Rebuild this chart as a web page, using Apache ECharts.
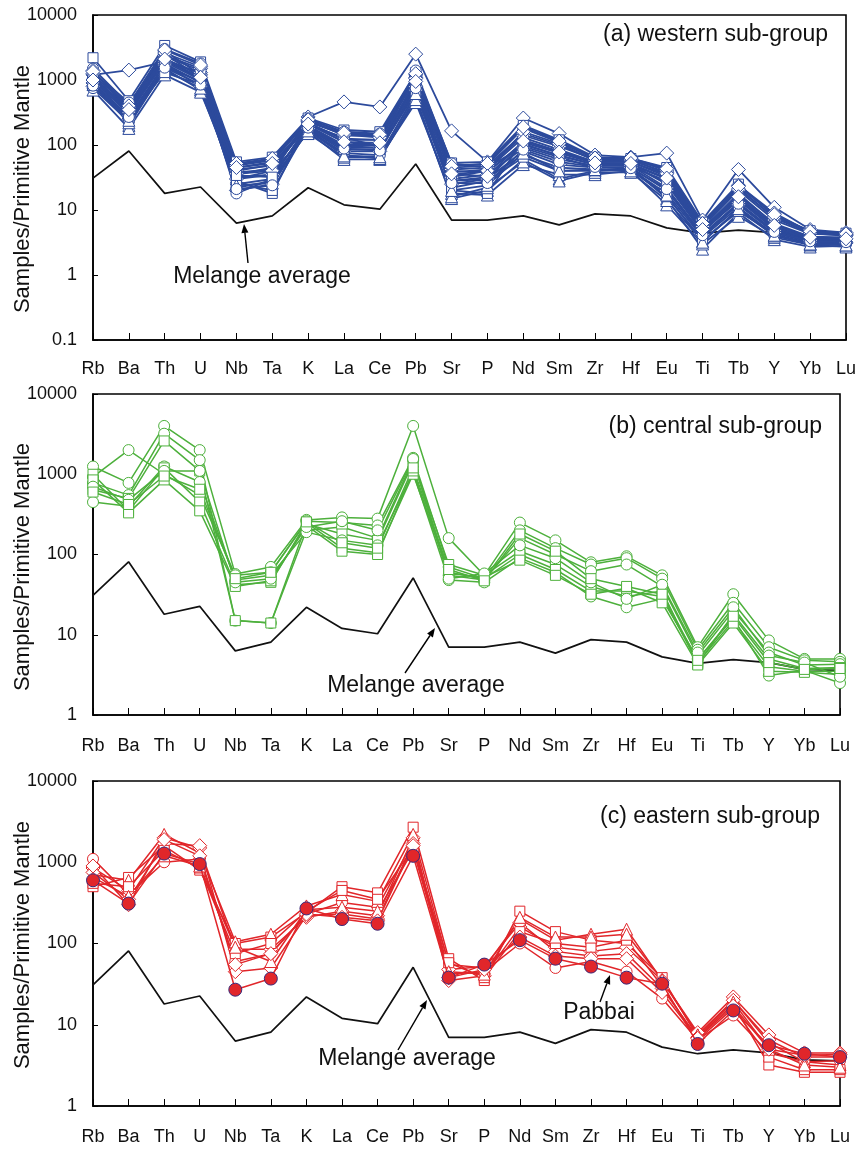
<!DOCTYPE html>
<html><head><meta charset="utf-8">
<script src="https://cdn.jsdelivr.net/npm/echarts@6.0.0/dist/echarts.min.js"></script>
<style>html,body{margin:0;padding:0;background:#fff}#c{width:861px;height:1150px}</style>
</head><body><div id="c"></div>
<script>
// ---------------- DATA ----------------
const elements = ['Rb','Ba','Th','U','Nb','Ta','K','La','Ce','Pb','Sr','P','Nd','Sm','Zr','Hf','Eu','Ti','Tb','Y','Yb','Lu'];
const melangeAverage = [31,81,18,22.6,6.3,8.1,22,12,10.3,51,7.0,7.0,8.1,5.9,8.7,8.1,5.3,4.4,4.9,4.5,3.7,3.6];
const ticksA = [0.1,1,10,100,1000,10000];
const ticksBC = [1,10,100,1000,10000];

// (a) western sub-group
const west1  = [1200,1420,1900,1300,30,35,270,460,385,2500,165,55,260,150,70,65,75,7,42,11,5,4.5];
const west2  = [2200,480,3400,1900,55,65,260,170,160,1300,53,55,200,120,65,62,45,6.5,25,8,4.8,4.4];
const west3  = [1500,420,3000,1800,50,60,250,160,150,1250,50,50,180,110,62,60,42,6,22,7.5,4.5,4.3];
const west4  = [1400,350,2800,1200,45,55,240,140,140,1100,45,48,150,100,58,58,38,5.5,20,7,4.3,4.1];
const west5  = [1300,200,1500,700,25,30,160,60,60,550,15,20,60,30,40,45,15,2.5,9,3.5,2.7,2.8];
const west6  = [1000,300,2200,1000,35,45,200,100,100,900,35,40,100,70,50,50,25,4.5,15,5,3.5,3.3];
const west7  = [800,250,1800,900,20,25,180,80,80,800,25,30,80,50,45,45,20,4,12,4.5,3.2,3.1];
const west8  = [1100,330,2000,1050,18,30,210,110,100,1000,40,38,110,75,52,50,30,5,16,5.5,3.7,3.6];
const west9  = [700,180,1200,650,30,40,150,65,65,450,18,17,50,35,35,40,12,3,8,3.8,2.9,2.7];
const west10 = [900,280,1700,800,40,50,190,90,90,700,30,35,90,60,48,48,22,4.2,13,4.8,3.4,3.2];
const west11 = [1200,400,2500,1100,28,18,220,120,120,1100,20,18,120,80,55,55,35,5,18,6,3.8,3.7];
const west12 = [750,230,1600,950,22,28,170,75,70,600,28,32,70,45,42,42,18,3.8,11,4.2,3.1,3.0];
const west13 = [1000,380,2400,1500,48,58,230,150,140,1200,42,45,140,95,60,62,40,6,24,9,4.6,4.2];
const west14 = [850,220,1400,750,32,35,175,70,62,500,16,22,55,28,38,38,14,3.3,10,4,3,2.9];
const west15 = [1300,450,2100,1250,38,42,205,130,95,1400,52,45,95,65,45,46,28,4.8,14,5.2,3.6,3.8];
const west16 = [950,260,1300,850,26,20,185,85,85,650,22,28,65,40,40,42,16,3.5,9.5,4.4,3.3,3.4];
const west17 = [1050,380,2300,1400,42,48,215,125,120,1150,38,42,130,85,55,55,33,5.2,17,6.2,3.9,3.8];
const west18 = [1250,320,2600,1600,36,40,225,145,130,1050,32,40,160,105,58,60,36,5.6,21,7.8,4.4,4.0];
const west19 = [900,240,1700,950,24,26,165,68,66,620,20,24,75,40,42,40,17,3.2,10.5,4.1,3.0,2.9];
const west20 = [1150,300,1900,1000,34,32,195,95,92,850,28,30,105,68,50,50,26,4.6,15,5.4,3.6,3.5];
const west21 = [1350,400,2900,1700,52,62,245,155,145,1250,47,52,190,115,63,63,43,6.2,23,8.5,4.7,4.3];
const west22 = [820,270,1550,850,21,24,185,88,82,750,26,26,85,55,46,44,21,4.1,12.5,4.6,3.3,3.2];
const west23 = [1000,350,2100,1100,45,52,210,112,108,950,36,33,115,78,53,52,31,5.0,16,5.8,3.8,3.6];

// (b) central sub-group
const cent1 = [1250,780,4000,2000,57,70,270,290,280,4000,160,55,250,150,80,95,55,7,32,8.5,5,5];
const cent2 = [930,2000,1000,550,55,60,260,250,230,1600,70,50,200,120,75,90,50,6.5,25,7,4.8,4.6];
const cent3 = [780,550,3200,1500,15,14,200,220,160,1500,55,48,160,100,62,75,40,5.5,20,6,4.2,4.3];
const cent4 = [640,500,2600,1100,15,14,240,180,150,1400,75,55,110,75,40,30,35,4.3,18,5,3.8,3.9];
const cent5 = [450,400,1250,800,48,55,190,150,130,1050,48,45,90,60,30,22,28,5,16,3.1,3.6,2.5];
const cent6 = [1000,350,1200,450,42,45,250,120,105,1000,60,50,100,65,35,35,30,4.5,15,4,3.5,3.5];
const cent7 = [850,330,850,350,40,47,230,110,100,1100,58,52,85,55,32,38,25,4.2,14,3.5,3.4,3.2];
const cent8 = [700,480,1100,1100,45,50,220,260,200,1550,50,58,130,90,45,28,42,6,22,5.5,4.5,3.0];
const cent9 = [600,420,950,650,50,60,255,140,120,1200,65,47,180,110,50,40,32,4.8,17,4.5,3.7,3.8];

// (c) eastern sub-group
const east1 = [500,650,1600,800,100,120,240,500,420,2700,65,35,250,140,110,100,38,7,18,3.2,2.6,2.6];
const east2 = [1100,400,1000,1100,60,75,230,320,280,1800,42,45,100,50,60,45,21,6.5,13,4.5,3.5,3.6];
const east3 = [850,450,2000,1500,85,85,210,250,220,2000,35,40,160,90,80,90,35,8,22,7.5,4.5,4.5];
const east4 = [700,600,2200,1300,105,130,290,400,330,2200,55,50,200,110,130,150,35,7.5,20,6,3.5,3.2];
const east5 = [750,350,1700,1600,45,50,220,230,200,1700,48,52,180,80,70,75,28,7,20,6.5,4,4];
const east6 = [550,500,1400,850,75,100,250,450,350,1500,58,38,140,100,90,110,30,6.5,16,4,2.8,2.8];
const east7 = [650,380,1200,900,90,60,260,280,250,1400,45,42,210,120,120,130,36,7.5,19,5,3.2,3.0];
const east8 = [900,300,1900,1200,55,75,230,210,190,1600,38,48,120,70,65,65,25,6.8,17,5,4.2,4.3];
const pabbai = [600,310,1280,950,27,37,270,200,175,1200,38,55,110,65,52,38,32,5.8,15,5.6,4.4,4.0];

// ---------------- CHART ----------------
const FONT = '"Liberation Sans", Arial, Helvetica, sans-serif';
const BLUE = '#2C4A9C', GREEN = '#4DB03C', RED = '#E1262A';
const SYM = {diamond:['diamond',14], circle:['circle',11], rect:['rect',10], triangle:['triangle',12]};

function sample(name, data, gi, sym, color, fill, border, lw) {
  return {
    type:'line', name, data, xAxisIndex:gi, yAxisIndex:gi,
    symbol: SYM[sym][0], symbolSize: SYM[sym][1], showAllSymbol:true,
    lineStyle:{color, width: lw || 1.5},
    itemStyle:{color: fill || '#fff', borderColor: border || color, borderWidth:1},
    emphasis:{disabled:true}, silent:true, z:3
  };
}
function melange(gi) {
  return {type:'line', name:'Melange average', data:melangeAverage, xAxisIndex:gi, yAxisIndex:gi,
    symbol:'none', lineStyle:{color:'#111', width:1.7}, silent:true, z:2};
}
const W = (n, d, s) => sample(n, d, 0, s, BLUE, null, null, 1.8);

const series = [
  melange(0),
  W('w1',west1,'diamond'), W('w2',west2,'rect'), W('w3',west3,'circle'), W('w4',west4,'diamond'),
  W('w5',west5,'triangle'), W('w6',west6,'rect'), W('w7',west7,'diamond'), W('w8',west8,'circle'),
  W('w9',west9,'triangle'), W('w10',west10,'diamond'), W('w11',west11,'rect'), W('w12',west12,'circle'),
  W('w13',west13,'diamond'), W('w14',west14,'triangle'), W('w15',west15,'circle'), W('w16',west16,'rect'),
  W('w17',west17,'circle'), W('w18',west18,'diamond'), W('w19',west19,'triangle'), W('w20',west20,'rect'),
  W('w21',west21,'diamond'), W('w22',west22,'circle'), W('w23',west23,'diamond'),
  melange(1),
  sample('c1',cent1,1,'circle',GREEN), sample('c2',cent2,1,'circle',GREEN),
  sample('c3',cent3,1,'circle',GREEN), sample('c4',cent4,1,'rect',GREEN),
  sample('c5',cent5,1,'circle',GREEN), sample('c6',cent6,1,'rect',GREEN),
  sample('c7',cent7,1,'rect',GREEN), sample('c8',cent8,1,'circle',GREEN),
  sample('c9',cent9,1,'rect',GREEN),
  melange(2),
  sample('e1',east1,2,'rect',RED), sample('e2',east2,2,'circle',RED),
  sample('e3',east3,2,'diamond',RED), sample('e4',east4,2,'triangle',RED),
  sample('e5',east5,2,'diamond',RED), sample('e6',east6,2,'rect',RED),
  sample('e7',east7,2,'triangle',RED), sample('e8',east8,2,'diamond',RED),
  Object.assign(sample('Pabbai',pabbai,2,'circle',RED,RED,'#3A2A7A'), {symbolSize:13, z:4})
];

const grids = [
  {left:93, top:15, width:753, height:325},
  {left:93, top:394, width:747, height:321},
  {left:93, top:781, width:747, height:325}
].map(g => Object.assign(g, {show:true, borderColor:'#000', borderWidth:1.6, backgroundColor:'transparent'}));

const labelMargins = [20, 22, 22];
const xAxes = [0,1,2].map(i => ({
  type:'category', gridIndex:i, data:elements, boundaryGap:false,
  axisLine:{lineStyle:{color:'#000', width:1.6}},
  axisTick:{show:true, inside:true, length:7, lineStyle:{color:'#000', width:1}},
  axisLabel:{color:'#111', fontSize:18, fontFamily:FONT, margin:labelMargins[i], interval:0},
  splitLine:{show:false}
}));
const yTicks = [ticksA, ticksBC, ticksBC];
const yAxes = [0,1,2].map(i => ({
  type:'log', logBase:10, gridIndex:i, min:yTicks[i][0], max:yTicks[i][yTicks[i].length-1],
  axisLine:{show:true, lineStyle:{color:'#000', width:1.6}},
  axisTick:{show:true, inside:true, length:5, lineStyle:{color:'#000', width:1}},
  splitLine:{show:false}, minorTick:{show:false},
  axisLabel:{color:'#111', fontSize:18, fontFamily:FONT, margin:16,
    formatter: v => { const t = yTicks[i].find(x => Math.abs(Math.log10(x) - Math.log10(v)) < 1e-6); return t !== undefined ? String(t) : ''; }}
}));

function arrow(x1,y1,x2,y2) {
  const a = Math.atan2(y2-y1, x2-x1), L = 9, H = 3.5;
  const bx = x2 - L*Math.cos(a), by = y2 - L*Math.sin(a);
  const px = -Math.sin(a)*H, py = Math.cos(a)*H;
  return [
    {type:'polyline', shape:{points:[[x1,y1],[bx,by]]}, style:{stroke:'#000', lineWidth:1.4, fill:null}, z:10},
    {type:'polygon', shape:{points:[[x2,y2],[bx+px,by+py],[bx-px,by-py]]}, style:{fill:'#000'}, z:10}
  ];
}
function txt(text, x, y, align) {
  return {type:'text', x, y, z:10, style:{text, fontSize:23, fontFamily:FONT, fill:'#111', align:align||'center', verticalAlign:'middle'}};
}
function yname(y) {
  return {type:'text', x:23, y, rotation:Math.PI/2, z:10,
    style:{text:'Samples/Primitive Mantle', fontSize:22, fontFamily:FONT, fill:'#111', align:'center', verticalAlign:'middle'}};
}

const graphic = [
  yname(189), yname(567), yname(945),
  txt('(a) western sub-group', 828, 35, 'right'),
  txt('(b) central sub-group', 822, 427, 'right'),
  txt('(c) eastern sub-group', 820, 817, 'right'),
  txt('Melange average', 262, 277),
  txt('Melange average', 416, 686),
  txt('Melange average', 407, 1059),
  txt('Pabbai', 599, 1013),
  ...arrow(248,263,244,224),
  ...arrow(405,673,435,628),
  ...arrow(398,1050,427,1000),
  ...arrow(600,1002,610,975)
];

const chart = echarts.init(document.getElementById('c'), null, {renderer:'canvas'});
chart.setOption({
  animation:false, backgroundColor:'#fff',
  grid:grids, xAxis:xAxes, yAxis:yAxes, series, graphic
});
</script>
</body></html>
